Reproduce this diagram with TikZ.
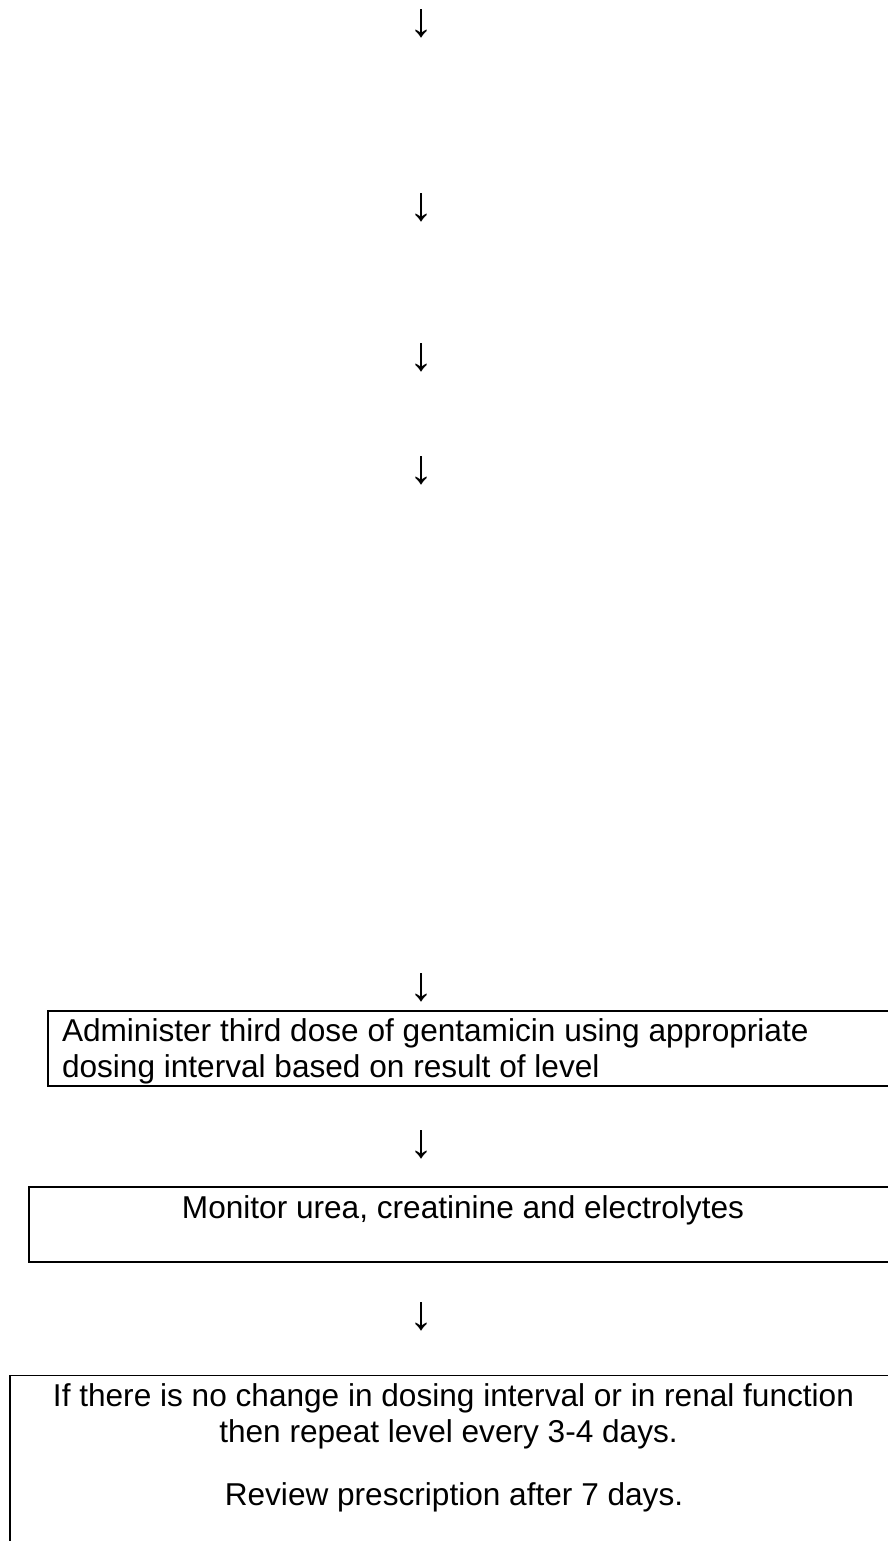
\documentclass[tikz,border=0pt]{standalone}
\usepackage{fontspec}
\setmainfont{Liberation Sans}
\begin{document}
\begin{tikzpicture}[x=1pt,y=-1pt,
  box/.style={draw=black, line width=1.8pt, rectangle, inner sep=0pt, outer sep=0pt, anchor=north west},
  txt/.style={font=\fontsize{31.6}{36}\selectfont, inner sep=0pt, outer sep=0pt},
  arr/.style={font=\fontsize{48}{54}\selectfont, inner sep=0pt, outer sep=0pt}]
\useasboundingbox (0,0) rectangle (888,1541);
\clip (0,0) rectangle (888,1541);
\fill[white] (0,0) rectangle (888,1541);
% arrows
\node[arr] (a1) at (421.7,23.5) {↓};
\node[arr] (a2) at (421.7,208) {↓};
\node[arr] (a3) at (421.7,357.5) {↓};
\node[arr] (a4) at (421.7,471) {↓};
\node[arr] (a5) at (421.7,988) {↓};
\node[arr] (a6) at (421.7,1145) {↓};
\node[arr] (a7) at (421.7,1317) {↓};
% boxes
\node[box, minimum width=900pt, minimum height=75pt] (b1) at (47.7,1010.7) {};
\node[box, minimum width=900pt, minimum height=74.5pt] (b2) at (28.7,1187.2) {};
\node[box, minimum width=900pt, minimum height=220pt] (b3) at (9.7,1375.5) {};
% texts
\node[txt, anchor=base west] (t1a) at (62,1041.7) {Administer third dose of gentamicin using appropriate};
\node[txt, anchor=base west] (t1b) at (62,1077.3) {dosing interval based on result of level};
\node[txt, anchor=base] (t2) at (463,1218) {Monitor urea, creatinine and electrolytes};
\node[txt, anchor=base] (t3a) at (453.5,1406.7) {If there is no change in dosing interval or in renal function};
\node[txt, anchor=base] (t3b) at (448.5,1442.7) {then repeat level every 3-4 days.};
\node[txt, anchor=base] (t3c) at (454,1505) {Review prescription after 7 days.};
\end{tikzpicture}
\end{document}
